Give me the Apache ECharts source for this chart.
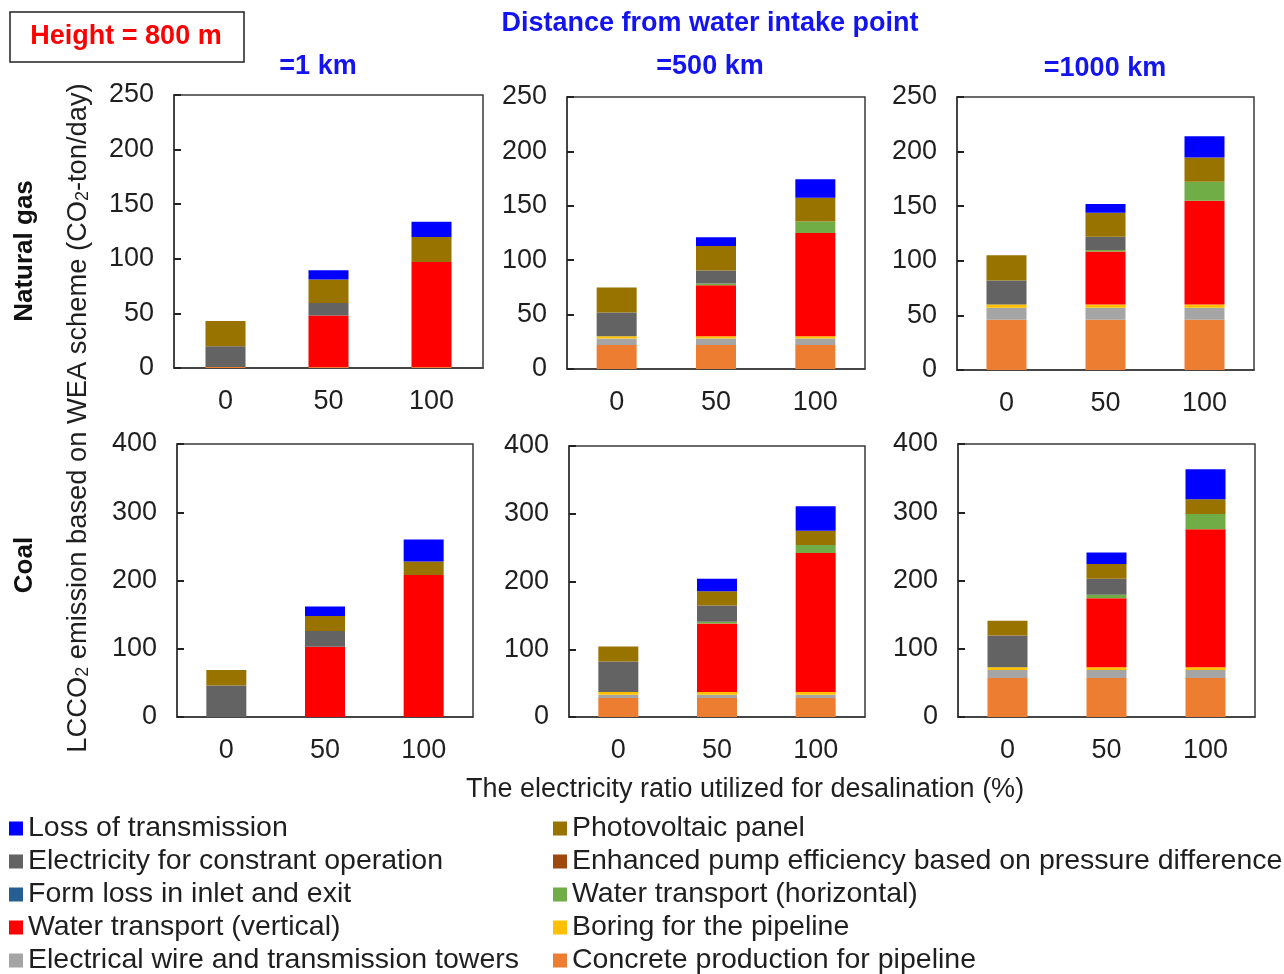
<!DOCTYPE html>
<html>
<meta charset="utf-8" />

<head>
  <script src="https://cdn.jsdelivr.net/npm/echarts@6.0.0/dist/echarts.min.js"></script>
  <style>
    body {
      margin: 0;
      background: #fff;
    }
    .chart {
      width: 1284px;
      height: 974px;
    }
  </style>
</head>

<body>
  <div class="chart" id="lcco2-chart"></div>
  <script>
    // x categories: electricity ratio used for desalination (%)
    const ratios = ["0", "50", "100"];

    // one triple per panel, panel order:
    // natural gas 1 km, 500 km, 1000 km, then coal 1 km, 500 km, 1000 km
    const concreteProduction = [[1, 1, 1], [22, 22, 22], [46, 46, 46], [0, 0, 0], [28, 28, 28], [57, 57, 57]];
    const wireTowers = [[0, 0, 0], [6, 6, 6], [11, 11, 11], [0, 0, 0], [5, 5, 5], [12, 12, 12]];
    const boringPipeline = [[0, 0, 0], [2, 2, 2], [3, 3, 3], [0, 0, 0], [4, 4, 4], [4, 4, 4]];
    const pumpEfficiency = [[0, 0, 0], [0, 0, 0], [0, 0, 0], [0, 0, 0], [0, 0, 0], [0, 0, 0]];
    const formLoss = [[0, 0, 0], [0, 0, 0], [0, 0, 0], [0, 0, 0], [0, 0, 0], [0, 0, 0]];
    const transportVertical = [[0, 47, 96], [0, 47, 95], [0, 48.5, 95], [0, 103, 208], [0, 101, 205], [0, 101, 202]];
    const transportHorizontal = [[0, 0, 0], [0, 1.5, 10.5], [0, 1.5, 17.5], [0, 0, 0], [0, 2.5, 12], [0, 5, 22.5]];
    const constantOperation = [[19, 11.5, 0], [22, 12, 0], [22, 12, 0], [46, 23, 0], [45, 24, 0], [46.5, 23.5, 0]];
    const photovoltaic = [[23, 21.5, 23], [23, 22.5, 22], [23, 22, 22], [23, 22, 20], [22, 21, 21], [21.5, 21.5, 21.5]];
    const transmissionLoss = [[0, 8.5, 14], [0, 8, 17], [0, 8, 19.5], [0, 14, 32], [0, 18.5, 36], [0, 17, 44]];

    const yMax = [250, 250, 250, 400, 400, 400];
    const yStep = [50, 50, 50, 100, 100, 100];

    // stacking order, bottom to top
    const components = [
      { name: "Concrete production for pipeline", color: "#ED7D31", data: concreteProduction },
      { name: "Electrical wire and transmission towers", color: "#A5A5A5", data: wireTowers },
      { name: "Boring for the pipeline", color: "#FFC000", data: boringPipeline },
      { name: "Enhanced pump efficiency based on pressure difference", color: "#9E480E", data: pumpEfficiency },
      { name: "Form loss in inlet and exit", color: "#255E91", data: formLoss },
      { name: "Water transport (vertical)", color: "#FF0000", data: transportVertical },
      { name: "Water transport (horizontal)", color: "#70AD47", data: transportHorizontal },
      { name: "Electricity for constrant operation", color: "#636363", data: constantOperation },
      { name: "Photovoltaic panel", color: "#997300", data: photovoltaic },
      { name: "Loss of transmission", color: "#0000FF", data: transmissionLoss },
    ];

    const gridBoxes = [
      { left: 174, top: 95, width: 309, height: 273 },
      { left: 567, top: 97, width: 298, height: 272 },
      { left: 957, top: 97, width: 297, height: 273 },
      { left: 177, top: 444, width: 296, height: 273 },
      { left: 569, top: 446, width: 296, height: 271 },
      { left: 958, top: 444, width: 297, height: 273 },
    ];

    const font = "'Liberation Sans', Arial, sans-serif";
    const blue = "#1414ee";
    const ink = "#1f1f1f";

    const myChart = echarts.init(document.getElementById("lcco2-chart"));

    const grid = [];
    const xAxis = [];
    const yAxis = [];
    const series = [];

    gridBoxes.forEach((box, i) => {
      grid.push({
        ...box,
        show: true,
        borderColor: "#3a3a3a",
        borderWidth: 1.5,
        backgroundColor: "#fff",
      });
      xAxis.push({
        type: "category",
        gridIndex: i,
        data: ratios,
        axisTick: { show: false },
        axisLine: { show: true, lineStyle: { color: "#3a3a3a", width: 1.5 } },
        axisLabel: { color: ink, fontSize: 27, fontFamily: font, margin: 20 },
      });
      yAxis.push({
        type: "value",
        gridIndex: i,
        min: 0,
        max: yMax[i],
        interval: yStep[i],
        splitLine: { show: false },
        axisLine: { show: true, lineStyle: { color: "#3a3a3a", width: 1.5 } },
        axisTick: { show: true, inside: true, length: 7, lineStyle: { color: "#222", width: 2 } },
        axisLabel: { color: ink, fontSize: 27, fontFamily: font, margin: 20 },
      });
      components.forEach((c) => {
        series.push({
          type: "bar",
          name: c.name,
          xAxisIndex: i,
          yAxisIndex: i,
          stack: "panel" + i,
          barWidth: 40,
          itemStyle: { color: c.color },
          data: c.data[i],
        });
      });
    });

    const legendText = { fontSize: 28.5, fontFamily: font, color: ink };
    const legendBase = {
      orient: "vertical",
      top: 814,
      height: 220,
      padding: 0,
      itemGap: 4,
      itemWidth: 14,
      itemHeight: 14,
      icon: "rect",
      textStyle: legendText,
    };
    const legend = [
      {
        ...legendBase,
        left: 9,
        data: [
          "Loss of transmission",
          "Electricity for constrant operation",
          "Form loss in inlet and exit",
          "Water transport (vertical)",
          "Electrical wire and transmission towers",
        ],
      },
      {
        ...legendBase,
        left: 553,
        data: [
          "Photovoltaic panel",
          "Enhanced pump efficiency based on pressure difference",
          "Water transport (horizontal)",
          "Boring for the pipeline",
          "Concrete production for pipeline",
        ],
      },
    ];

    const heading = (text, x, y) => ({
      type: "text",
      x: x,
      y: y,
      style: {
        text: text,
        fill: blue,
        font: "bold 27px " + font,
        align: "center",
        verticalAlign: "middle",
      },
    });

    const graphic = [
      {
        type: "rect",
        shape: { x: 10, y: 12, width: 234, height: 50 },
        style: { fill: "#fff", stroke: "#222", lineWidth: 1.5 },
      },
      {
        type: "text",
        x: 126,
        y: 37,
        style: {
          text: "Height = 800 m",
          fill: "#ff0000",
          font: "bold 27px " + font,
          align: "center",
          verticalAlign: "middle",
        },
      },
      heading("Distance from water intake point", 710, 24),
      heading("=1 km", 318, 67),
      heading("=500 km", 710, 67),
      heading("=1000 km", 1105, 69),
      {
        type: "text",
        x: 25,
        y: 251,
        rotation: Math.PI / 2,
        style: {
          text: "Natural gas",
          fill: "#111",
          font: "bold 26px " + font,
          align: "center",
          verticalAlign: "middle",
        },
      },
      {
        type: "text",
        x: 25,
        y: 565,
        rotation: Math.PI / 2,
        style: {
          text: "Coal",
          fill: "#111",
          font: "bold 26px " + font,
          align: "center",
          verticalAlign: "middle",
        },
      },
      {
        type: "text",
        x: 77,
        y: 418,
        rotation: Math.PI / 2,
        style: {
          text: "{n|LCCO}{s|2}{n| emission based on WEA scheme (CO}{s|2}{n|-ton/day)}",
          align: "center",
          verticalAlign: "middle",
          rich: {
            n: { fontSize: 27.3, fontFamily: font, fill: ink, lineHeight: 30, verticalAlign: "bottom" },
            s: { fontSize: 18, fontFamily: font, fill: ink, lineHeight: 30, verticalAlign: "bottom" },
          },
        },
      },
      {
        type: "text",
        x: 745,
        y: 790,
        style: {
          text: "The electricity ratio utilized for desalination (%)",
          fill: ink,
          font: "27px " + font,
          align: "center",
          verticalAlign: "middle",
        },
      },
    ];

    const option = {
      animation: false,
      backgroundColor: "#fff",
      grid,
      xAxis,
      yAxis,
      legend,
      graphic,
      series,
    };
    myChart.setOption(option);
  </script>
</body>
</html>
